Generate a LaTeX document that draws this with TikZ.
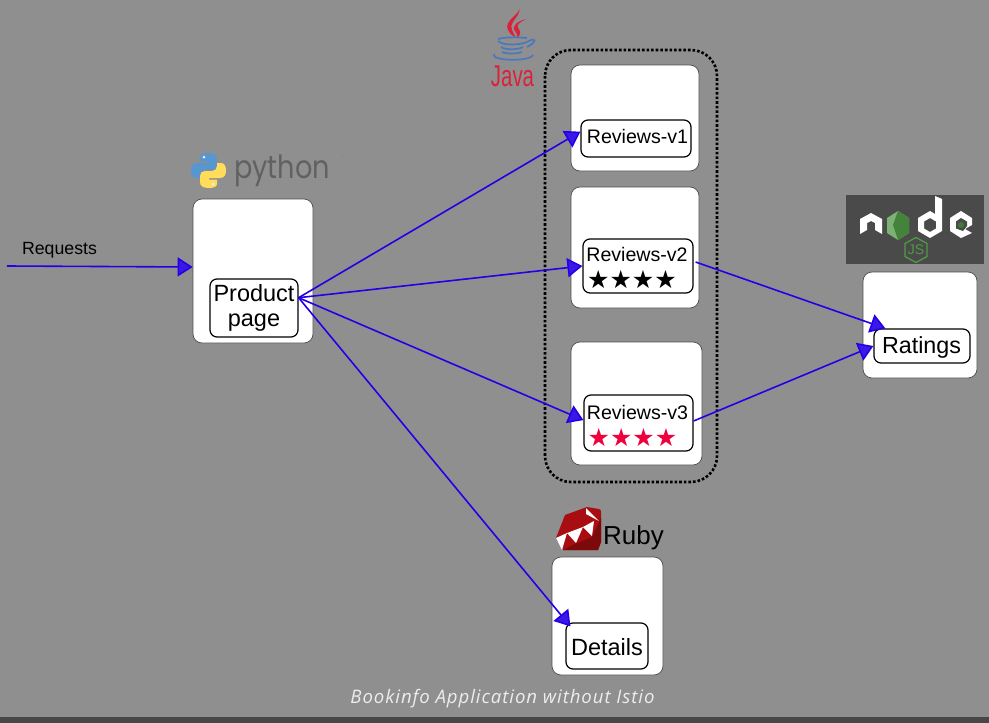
\documentclass[tikz,border=0pt]{standalone}
\usepackage{fontspec}
\usepackage{graphicx}
\setmainfont{Liberation Sans}
\newfontfamily\symfont{DejaVu Sans}
\newfontfamily\capfont[LetterSpace=5]{Open Sans}
\newfontfamily\pyfont{Poppins}
\usetikzlibrary{arrows.meta,calc}
\definecolor{bggray}{HTML}{8F8F8F}
\definecolor{arrowblue}{HTML}{2400E6}
\definecolor{starred}{HTML}{F0003C}
\definecolor{rubydark}{HTML}{7C0A0A}
\definecolor{rubyred}{HTML}{A80D12}
\definecolor{nodegreen}{HTML}{4F9A45}
\definecolor{nodedark}{HTML}{4A4A4A}
\definecolor{javared}{HTML}{D8233A}
\definecolor{javablue}{HTML}{4A78BC}
\tikzset{
  outerbox/.style={draw=black!70,line width=0.7pt,fill=white,rounded corners=9pt,minimum width=#1,inner sep=0pt},
  innerbox/.style={draw=black,line width=1.2pt,fill=white,rounded corners=7pt,inner sep=0pt,align=center},
  conn/.style={draw=arrowblue,line width=1.6pt,-{Triangle[length=15pt,width=19pt,fill=arrowblue!90!white]}}
}
\begin{document}
\begin{tikzpicture}[x=1pt,y=-1pt]
\useasboundingbox (0,0) rectangle (989,723);
\fill[bggray] (0,0) rectangle (989,723);
\fill[black!72] (0,717) rectangle (989,723);
% outer service boxes
\node[outerbox=120pt,minimum height=144pt] (ppbox) at (253,271) {};
\node[outerbox=128pt,minimum height=106pt] (v1box) at (635,118) {};
\node[outerbox=128pt,minimum height=121pt] (v2box) at (635,247.5) {};
\node[outerbox=131pt,minimum height=123pt] (v3box) at (636.5,403.5) {};
\node[outerbox=111pt,minimum height=118pt] (detbox) at (607.5,616) {};
\node[outerbox=114pt,minimum height=106pt] (ratbox) at (920,325) {};
% dotted group
\draw[black,line width=2.6pt,dotted,rounded corners=26pt] (545,50) rectangle (717,482);
% inner boxes
\node[innerbox,minimum width=88pt,minimum height=58pt,font=\fontsize{23.5}{25}\selectfont] (pp) at (254,308) {Product\\page};
\node[innerbox,minimum width=110pt,minimum height=37pt] (v1) at (636,138.5) {};
\node[innerbox,minimum width=110pt,minimum height=54pt] (v2) at (638,266) {};
\node[innerbox,minimum width=109pt,minimum height=56pt] (v3) at (638.5,423) {};
\node[innerbox,minimum width=82pt,minimum height=46pt] (det) at (607,646) {};
\node[innerbox,minimum width=96pt,minimum height=34pt] (rat) at (922,346) {};
\node[font=\fontsize{19.6}{22}\selectfont,inner sep=0pt] (v1t) at (637.5,136) {Reviews-v1};
\node[font=\fontsize{19.6}{22}\selectfont,inner sep=0pt] (v2t) at (637,254) {Reviews-v2};
\node[font=\fontsize{19.6}{22}\selectfont,inner sep=0pt] (v3t) at (637.5,412) {Reviews-v3};
\node[font=\fontsize{23.5}{25}\selectfont,inner sep=0pt] (dett) at (607,647) {Details};
\node[font=\fontsize{23.3}{25}\selectfont,inner sep=0pt] (ratt) at (921.5,347.5) {Ratings};
\node[font=\symfont\fontsize{25}{26}\selectfont,inner sep=0pt,black] (v2s) at (632,280) {★★★★};
\node[font=\symfont\fontsize{25}{26}\selectfont,inner sep=0pt,starred] (v3s) at (632.5,438) {★★★★};
% labels
\node[font=\fontsize{17.7}{20}\selectfont,inner sep=0pt] (req) at (59.5,250) {Requests};
\node[font=\capfont\itshape\fontsize{18.6}{20}\selectfont,text=white!93!black,inner sep=0pt] (cap) at (502.5,698.5) {Bookinfo Application without Istio};
% connectors
\coordinate (reqstart) at (7,266);
\draw[conn] (reqstart) -- (ppbox.west |- 0,267);
\draw[conn] (pp.13) -- (v1.173);
\draw[conn] (pp.13) -- (v2.west);
\draw[conn] (pp.13) -- (v3.177);
\draw[conn] (pp.13) -- ($(det.north west)+(5,4)$);
\draw[conn] (v2.east)+(2,-4) -- ($(rat.north west)+(12,0)$);
\draw[conn] (v3.east)+(0,-2) -- (rat.west);
% python logo
\begin{scope}
\def\snake{(208,153) .. controls (214,153) and (217,155) .. (217,159) -- (217,165) .. controls (217,168) and (215,170) .. (212,170) -- (205,170) .. controls (202,170) and (200,172) .. (200,175) -- (200,178) -- (196,178) .. controls (192,178) and (191,174) .. (191,170) .. controls (191,166) and (193,163) .. (197,163) -- (208,163) -- (208,161.5) -- (200,161.5) -- (200,157) .. controls (200,154) and (204,153) .. (208,153) -- cycle}
\fill[color={rgb,255:red,88;green,150;blue,208}] \snake;
\fill[white!85!gray] (204,157) circle (1.5);
\begin{scope}[shift={(417,341)},x=-1pt,y=1pt]
\fill[color={rgb,255:red,255;green,220;blue,90}] \snake;
\fill[white!85!gray] (204,157) circle (1.5);
\end{scope}
\end{scope}
\node[font=\pyfont\fontsize{32}{32}\selectfont,text=black!62,inner sep=0pt,anchor=base west] (pytxt) at (234,178) {\scalebox{0.85}[1]{python}};
\node[font=\fontsize{3.5}{4}\selectfont,text=black!40,inner sep=0pt] (pytm) at (336,156) {TM};
% java logo
\fill[javared] (519,7) .. controls (522,14) and (503,20) .. (508,30) .. controls (510,34) and (513,36) .. (516,38) .. controls (513,32) and (509,27) .. (513,22) .. controls (516,17) and (521,13) .. (519,7) -- cycle;
\fill[javared] (526,19) .. controls (518,21) and (511,26) .. (515,31) .. controls (517,33) and (518,36) .. (517,38) .. controls (522,34) and (520,30) .. (518,28) .. controls (516,25) and (520,22) .. (526,19) -- cycle;
\draw[javablue,line width=1.7pt] (498,39) .. controls (505,37) and (516,37) .. (527,38);
\draw[javablue,line width=1.7pt] (498,41) .. controls (503,46) and (520,45) .. (527,42) .. controls (537,36) and (537,42) .. (527,47);
\draw[javablue,line width=1.7pt] (501,47) .. controls (505,50) and (518,50) .. (523,47);
\draw[javablue,line width=1.7pt] (502,52) .. controls (506,54) and (517,54) .. (522,52);
\draw[javablue,line width=1.7pt] (494,54) .. controls (490,61) and (530,62) .. (533,55);
\node[font=\fontsize{30}{30}\selectfont,text=javared,inner sep=0pt] (javatxt) at (512.5,76) {\scalebox{0.68}[1]{Java}};
% ruby logo
\fill[rubyred] (556,538) -- (565,515) -- (587,507) -- (599,509) .. controls (601,509) and (601,511) .. (601,513) -- (601,542) -- (598,550) -- (563,550) -- cycle;
\fill[rubydark] (575,544) -- (592,537) -- (601,518) -- (601,542) -- (598,550) -- (563,550) -- cycle;
\fill[white] (556,538) -- (567,533) -- (562,550) -- cycle;
\fill[white] (567,533) -- (583,527) -- (576,543) -- cycle;
\fill[white] (583,527) -- (594,521) -- (592,536) -- cycle;
\fill[white] (586,508) -- (599,521) -- (586,514) -- cycle;
\node[font=\fontsize{26}{28}\selectfont,inner sep=0pt,anchor=base west] (rubytxt) at (603,544) {Ruby};
% node logo
\fill[nodedark] (846,195) rectangle (984,264);
\fill[white] (860,219) -- (871,213) -- (882,219) -- (882,234) -- (875,230) -- (875,223) -- (871,221) -- (867,223) -- (867,230) -- (860,234) -- cycle;
\fill[nodegreen!75!white] (898,211) -- (909,218) -- (909,233) -- (898,240) -- (887,233) -- (887,218) -- cycle;
\fill[nodegreen!85!black] (898,211) -- (909,218) -- (909,233) -- (898,240) -- (893,225) -- cycle;
\fill[white,even odd rule] (935,196) -- (942,199) -- (942,231) -- (930,238) -- (918,231) -- (918,218) -- (930,211) -- (935,214) -- cycle
  (930,218) -- (936,221.5) -- (936,228.5) -- (930,232) -- (924,228.5) -- (924,221.5) -- cycle;
\fill[white] (961,211) -- (972,218) -- (972,225) -- (965,229) -- (972,233) -- (961,238) -- (950,231) -- (950,218) -- cycle;
\fill[nodedark] (961,218) -- (967,221.5) -- (967,226) -- (963,231) -- (956,228.5) -- (956,221.5) -- cycle;
\fill[nodegreen!80!black] (961,225) circle (3);
\draw[nodegreen,line width=1.3pt] (916,237.5) -- (927,243.5) -- (927,256.5) -- (916,262.5) -- (905,256.5) -- (905,243.5) -- cycle;
\node[font=\fontsize{14}{14}\selectfont,text=nodegreen,inner sep=0pt] (jstxt) at (916,250) {JS};
\end{tikzpicture}
\end{document}
